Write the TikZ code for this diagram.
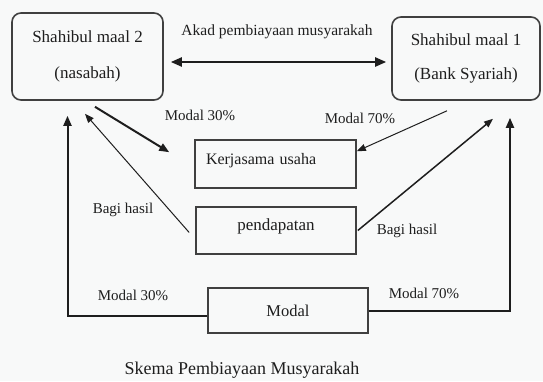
\documentclass[tikz,border=0pt]{standalone}
\usepackage{fontspec}
\setmainfont{LiberationSerif}[Extension=.ttf, UprightFont=*-Regular, BoldFont=*-Bold]
\usetikzlibrary{arrows.meta,calc}
\definecolor{bg}{RGB}{248,249,249}
\definecolor{ink}{RGB}{30,30,30}
\begin{document}
\begin{tikzpicture}[x=1pt,y=-1pt,
  rbox/.style={draw=ink!85, line width=1.6pt, rounded corners=9pt, inner sep=0pt, align=center, text=ink},
  sbox/.style={draw=ink!85, line width=1.6pt, inner sep=0pt, text=ink},
  lbl/.style={text=ink, inner sep=0pt, font=\rmfamily\fontsize{15}{18}\selectfont},
  thickarrow/.style={draw=ink, line width=2pt, -{Triangle[length=10pt,width=8pt]}},
  thinarrow/.style={draw=ink, line width=1pt, -{Triangle[length=9pt,width=7pt]}},
  midarrow/.style={draw=ink, line width=1.5pt, -{Triangle[length=9pt,width=7pt]}},
]
\fill[bg] (0,0) rectangle (543,381);
\useasboundingbox (0,0) rectangle (543,381);

\node[rbox, minimum width=151pt, minimum height=87pt, font=\rmfamily\fontsize{17}{36}\selectfont] (L) at (87.5,56.5) {Shahibul maal 2\\(nasabah)};
\node[rbox, minimum width=148pt, minimum height=83pt, font=\rmfamily\fontsize{17}{34}\selectfont] (R) at (466,58.5) {Shahibul maal 1\\(Bank Syariah)};

\node[sbox, minimum width=161pt, minimum height=48pt, text width=139pt, align=left, inner xsep=11pt, text height=12pt, text depth=12pt, font=\rmfamily\fontsize{16}{19}\selectfont] (K) at (275.5,164) {Kerjasama usaha};
\node[sbox, minimum width=160pt, minimum height=47pt, text height=12pt, text depth=12pt, font=\rmfamily\fontsize{17}{20}\selectfont] (P) at (276,230.5) {pendapatan};
\node[sbox, minimum width=160pt, minimum height=45pt, font=\rmfamily\fontsize{16.5}{20}\selectfont] (M) at (288,310.5) {Modal};

\node[lbl, font=\rmfamily\fontsize{15.5}{18}\selectfont] (akad) at (277,32) {Akad pembiayaan musyarakah};
\node[lbl] (m30a) at (200,115) {Modal 30\%};
\node[lbl] (m70a) at (360,118) {Modal 70\%};
\node[lbl] (bhl) at (123,210) {Bagi hasil};
\node[lbl] (bhr) at (407,231) {Bagi hasil};
\node[lbl] (m30b) at (133,295) {Modal 30\%};
\node[lbl] (m70b) at (424,293) {Modal 70\%};
\node[lbl, font=\rmfamily\fontsize{18}{22}\selectfont] (cap) at (242,370) {Skema Pembiayaan Musyarakah};

\draw[draw=ink, line width=2.2pt, {Triangle[length=11pt,width=9pt]}-{Triangle[length=11pt,width=9pt]}]
  ($(L.east)+(7,5.5)$) -- ($(R.west)+(-5,3.5)$);
\draw[thickarrow] ($(L.south)+(7.5,6)$) -- ($(K.north west)+(-25,13)$);
\draw[thinarrow] ($(R.south)+(-19,10)$) -- ($(K.north east)+(0,12)$);
\draw[thinarrow] ($(P.west)+(-6,2)$) -- ($(L.south)+(-2.5,13)$);
\draw[midarrow] ($(P.east)+(1,0)$) -- ($(R.south)+(27,18)$);
\draw[thickarrow] ($(M.west)+(0,5.5)$) -| ($(L.south)+(-20,15)$);
\draw[thickarrow] ($(M.east)+(0,0.5)$) -| ($(R.south)+(44,17)$);
\end{tikzpicture}
\end{document}
